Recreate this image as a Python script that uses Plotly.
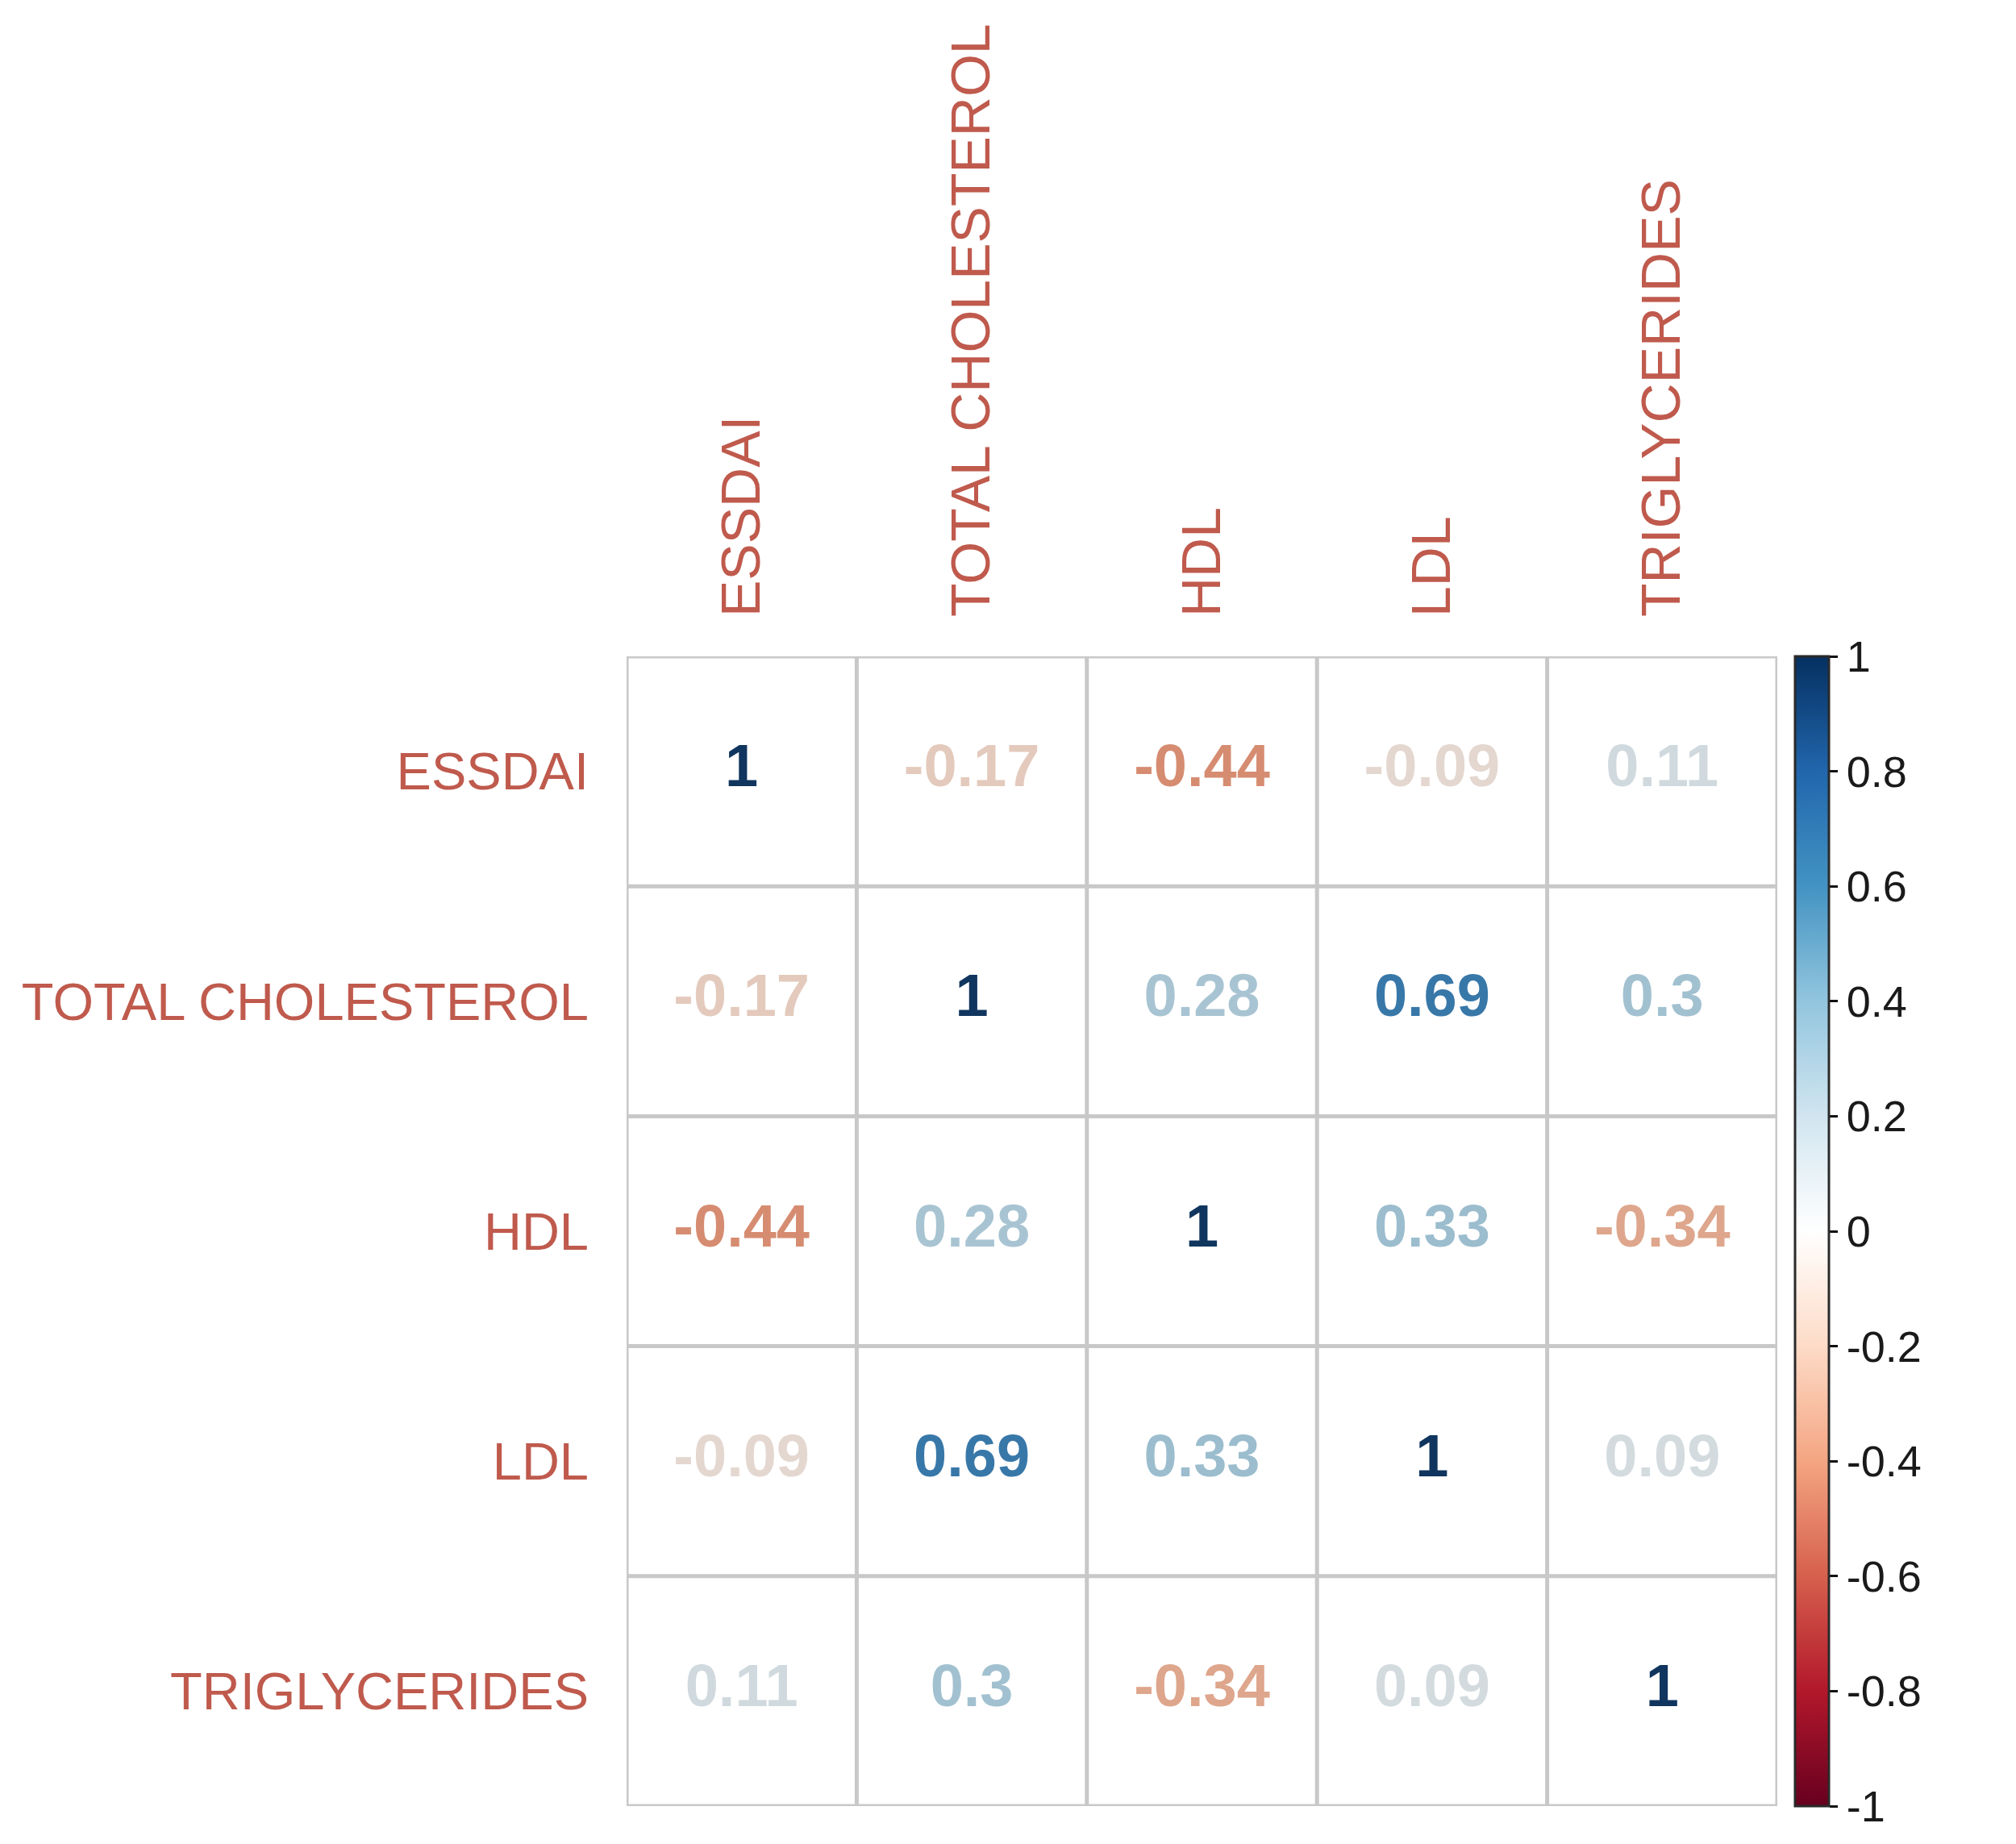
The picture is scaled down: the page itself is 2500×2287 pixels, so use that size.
import plotly.graph_objects as go
from plotly.colors import sample_colorscale, unlabel_rgb

# variables, in row / column order
labels = ["ESSDAI", "TOTAL CHOLESTEROL", "HDL", "LDL", "TRIGLYCERIDES"]

# correlation rows
essdai = [1, -0.17, -0.44, -0.09, 0.11]
total_chol = [-0.17, 1, 0.28, 0.69, 0.3]
hdl = [-0.44, 0.28, 1, 0.33, -0.34]
ldl = [-0.09, 0.69, 0.33, 1, 0.09]
trig = [0.11, 0.3, -0.34, 0.09, 1]
corr_rows = [essdai, total_chol, hdl, ldl, trig]

cbar_ticks = [1, 0.8, 0.6, 0.4, 0.2, 0, -0.2, -0.4, -0.6, -0.8, -1]

# corrplot style RdBu palette
RDBU = [[0.0, '#67001F'], [0.1, '#B2182B'], [0.2, '#D6604D'], [0.3, '#F4A582'],
        [0.4, '#FDDBC7'], [0.5, '#FFFFFF'], [0.6, '#D1E5F0'], [0.7, '#92C5DE'],
        [0.8, '#4393C3'], [0.9, '#2166AC'], [1.0, '#053061']]

LABEL_COLOR = '#BF5A4D'
GRID_COLOR = '#C8C8C8'
FONT = 'Liberation Sans, Arial, sans-serif'


def muted(rgb, amount=0.15, gray=80):
    # numbers in the original look a bit greyed out
    r, g, b = unlabel_rgb(rgb)
    mix = [round(c * (1 - amount) + gray * amount) for c in (r, g, b)]
    return f"rgb({mix[0]},{mix[1]},{mix[2]})"


n = len(labels)
xs, ys, vals, txt = [], [], [], []
for i, row in enumerate(corr_rows):
    for j, v in enumerate(row):
        xs.append(j)
        ys.append(i)
        vals.append(v)
        txt.append(f"{v:g}")

text_colors = [muted(c) for c in sample_colorscale(RDBU, [(v + 1) / 2 for v in vals])]

fig = go.Figure()

# invisible markers just to carry the colour bar
fig.add_trace(go.Scatter(
    x=xs, y=ys, mode='markers', hoverinfo='skip', showlegend=False,
    marker=dict(color=vals, colorscale=RDBU, cmin=-1, cmax=1, opacity=0, size=1,
                showscale=True,
                colorbar=dict(thickness=42, len=1, lenmode='fraction', y=0.5, yanchor='middle',
                              x=1 + 22 / 1427, xanchor='left', xpad=0, ypad=0,
                              outlinewidth=3, outlinecolor='#2a2a2a',
                              tickvals=cbar_ticks, ticktext=[f"{t:g}" for t in cbar_ticks],
                              ticks='outside', ticklen=10, tickwidth=3, tickcolor='#111',
                              tickfont=dict(family=FONT, size=54, color='#1a1a1a')))
))

fig.add_trace(go.Scatter(
    x=xs, y=ys, mode='text', text=txt, showlegend=False,
    textfont=dict(family=FONT, size=74, color=text_colors, weight='bold'),
    hovertemplate='%{text}<extra></extra>'
))

# cell borders
shapes = []
for k in range(n + 1):
    shapes.append(dict(type='line', xref='x', yref='y', x0=k - 0.5, x1=k - 0.5, y0=-0.5, y1=n - 0.5,
                       line=dict(color=GRID_COLOR, width=5)))
    shapes.append(dict(type='line', xref='x', yref='y', y0=k - 0.5, y1=k - 0.5, x0=-0.5, x1=n - 0.5,
                       line=dict(color=GRID_COLOR, width=5)))

fig.update_layout(
    width=2500, height=2287,
    margin=dict(l=769, r=304, t=806, b=55),
    paper_bgcolor='white', plot_bgcolor='white',
    shapes=shapes,
    font=dict(family=FONT),
)
fig.update_xaxes(range=[-0.5, n - 0.5], side='top', tickvals=list(range(n)), ticktext=labels,
                 tickangle=-90, showgrid=False, zeroline=False, showline=False,
                 ticks='', ticklabelstandoff=48, automargin=False,
                 tickfont=dict(family=FONT, size=68, color=LABEL_COLOR))
fig.update_yaxes(range=[n - 0.5, -0.5], tickvals=list(range(n)), ticktext=labels,
                 showgrid=False, zeroline=False, showline=False,
                 ticks='', ticklabelstandoff=46, automargin=False,
                 tickfont=dict(family=FONT, size=65, color=LABEL_COLOR))

fig.write_html("out.html")
